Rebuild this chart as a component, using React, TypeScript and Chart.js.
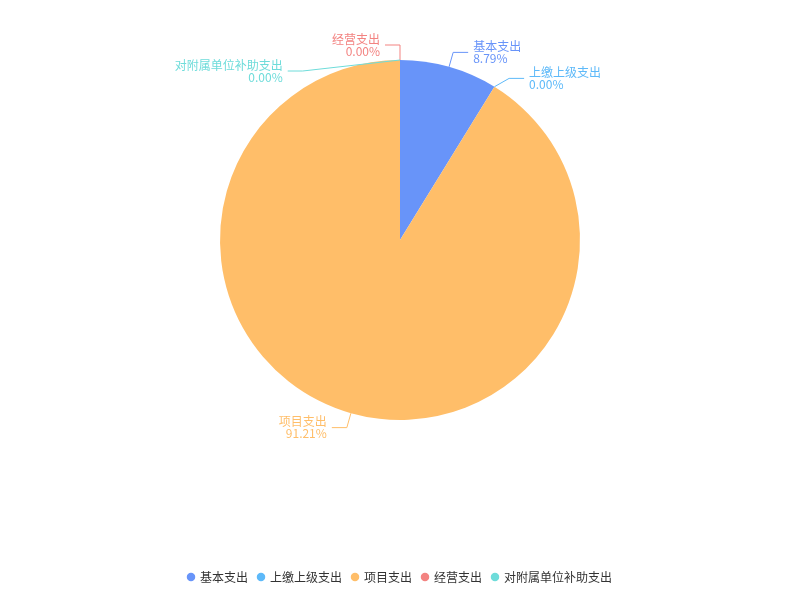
import React, { useEffect, useRef } from "react";
import { Chart, registerables } from "chart.js";

Chart.register(...registerables);

const categories = ["基本支出", "上缴上级支出", "项目支出", "经营支出", "对附属单位补助支出"];
const values = [8.79, 0, 91.21, 0, 0];
const colors = ["#6894F9", "#5DB9F9", "#FFBE69", "#F38381", "#6EDCDA"];

const FONT = "'Noto Sans CJK SC', 'Noto Sans', sans-serif";

const outerLabels = {
  id: "outerLabels",
  afterDatasetsDraw(chart: any) {
    const meta = chart.getDatasetMeta(0);
    const data = chart.data.datasets[0].data as number[];
    const total = data.reduce((a, b) => a + b, 0);
    const ctx = chart.ctx;
    const len1 = 15;
    const len2 = 15;
    const gap = 26;
    type L = { i: number; ex: number; ey: number; bx: number; by: number; ny: number; right: boolean; cx: number; cy: number; R: number };
    const items: L[] = [];
    meta.data.forEach((arc: any, i: number) => {
      const p = arc.getProps(["x", "y", "startAngle", "endAngle", "outerRadius"], true);
      const mid = (p.startAngle + p.endAngle) / 2;
      const c = Math.cos(mid);
      const s = Math.sin(mid);
      const right = c > 1e-6;
      const R = p.outerRadius + len1;
      items.push({
        i,
        ex: p.x + p.outerRadius * c,
        ey: p.y + p.outerRadius * s,
        bx: p.x + R * c,
        by: p.y + R * s,
        ny: p.y + R * s,
        right,
        cx: p.x,
        cy: p.y,
        R,
      });
    });
    [true, false].forEach((side) => {
      const list = items.filter((it) => it.right === side).sort((a, b) => a.ny - b.ny);
      for (let k = 1; k < list.length; k++) {
        if (list[k].by < list[k - 1].by + gap) {
          list[k].by = list[k - 1].by + gap;
          const dy = list[k].by - list[k].cy;
          if (Math.abs(dy) < list[k].R) {
            const dx = Math.sqrt(list[k].R * list[k].R - dy * dy);
            list[k].bx = list[k].cx + (side ? dx : -dx);
          }
        }
      }
    });
    ctx.save();
    items.forEach((it) => {
      const col = colors[it.i];
      const dir = it.right ? 1 : -1;
      const endX = it.bx + dir * len2;
      ctx.strokeStyle = col;
      ctx.lineWidth = 1;
      ctx.beginPath();
      ctx.moveTo(it.ex, it.ey);
      ctx.lineTo(it.bx, it.by);
      ctx.lineTo(endX, it.by);
      ctx.stroke();
      ctx.fillStyle = col;
      ctx.font = `12px ${FONT}`;
      ctx.textAlign = it.right ? "left" : "right";
      ctx.textBaseline = "middle";
      const tx = endX + dir * 5;
      const pct = total ? ((data[it.i] / total) * 100).toFixed(2) + "%" : "0.00%";
      ctx.fillText(categories[it.i], tx, it.by - 6);
      ctx.fillText(pct, tx, it.by + 6);
    });
    ctx.restore();
  },
};

export default function App() {
  const ref = useRef<HTMLCanvasElement | null>(null);
  useEffect(() => {
    if (!ref.current) return;
    Chart.defaults.font.family = FONT;
    const chart = new Chart(ref.current, {
      type: "pie",
      data: {
        labels: categories,
        datasets: [
          {
            data: values,
            backgroundColor: colors,
            borderWidth: 0,
          },
        ],
      },
      options: {
        animation: false,
        responsive: true,
        maintainAspectRatio: false,
        layout: { padding: { top: 60, bottom: 7, left: 0, right: 0 } },
        plugins: {
          tooltip: { enabled: false },
          legend: {
            position: "bottom",
            title: { display: true, text: " ", padding: { top: 0, bottom: 126.6 } },
            labels: {
              usePointStyle: true,
              pointStyle: "circle",
              boxWidth: 6,
              boxHeight: 6,
              padding: 10,
              color: "#333",
              font: { size: 12, family: FONT },
            },
          },
        },
      },
      plugins: [outerLabels],
    });
    return () => chart.destroy();
  }, []);
  return (
    <div style={{ position: "absolute", left: 0, top: 0, width: 800, height: 600, background: "#fff" }}>
      <canvas ref={ref} />
    </div>
  );
}
